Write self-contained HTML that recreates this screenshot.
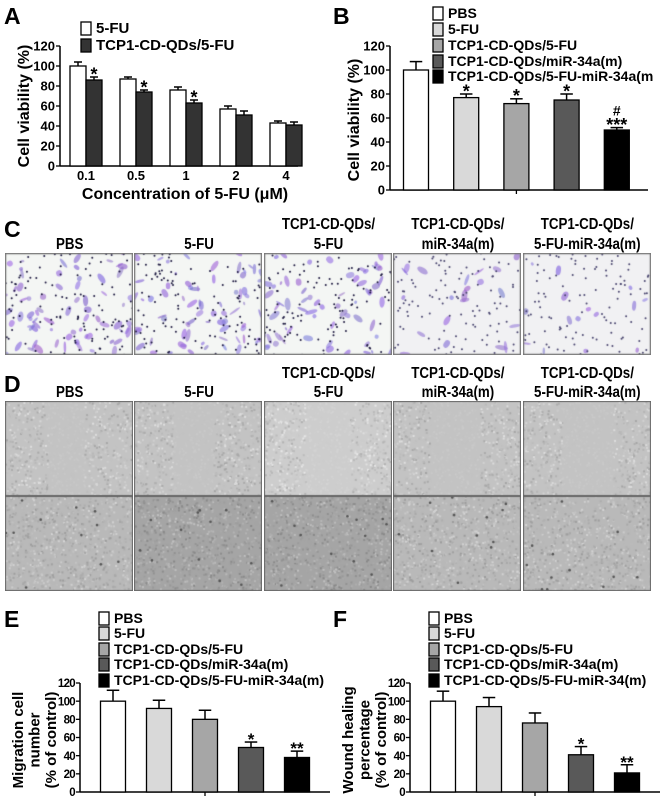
<!DOCTYPE html>
<html><head><meta charset="utf-8">
<style>
html,body{margin:0;padding:0;background:#fff;}
#root{position:relative;width:663px;height:798px;overflow:hidden;font-family:"Liberation Sans",Arial,sans-serif;}
canvas{position:absolute;}
#svg{position:absolute;left:0;top:0;}
text{font-family:"Liberation Sans",Arial,sans-serif;font-weight:bold;fill:#000;}
</style></head>
<body>
<div id="root">
<svg id="svg" width="663" height="798" xmlns="http://www.w3.org/2000/svg"></svg>
</div>
<script>
// ---------- Chart data ----------
const aCategories = ["0.1","0.5","1","2","4"];
const aFU = [100,87,76,57,43];
const aFUErr = [4,2,3,3,2];
const aQD = [86,74,63,51,41];
const aQDErr = [3,2,3,4,3];
const aStars = ["*","*","*","",""];

const groupNames = ["PBS","5-FU","TCP1-CD-QDs/5-FU","TCP1-CD-QDs/miR-34a(m)","TCP1-CD-QDs/5-FU-miR-34a(m"];
const bValues = [100,77,72,75,50];
const bErr = [7,3,4,5,2];
const bStars = ["","*","*","*","***"];

const eNames = ["PBS","5-FU","TCP1-CD-QDs/5-FU","TCP1-CD-QDs/miR-34a(m)","TCP1-CD-QDs/5-FU-miR-34a(m)"];
const eValues = [100,92,80,49,38];
const eErr = [12,9,10,6,7];
const eStars = ["","","","*","**"];

const fNames = ["PBS","5-FU","TCP1-CD-QDs/5-FU","TCP1-CD-QDs/miR-34a(m)","TCP1-CD-QDs/5-FU-miR-34(m)"];
const fValues = [100,94,76,41,21];
const fErr = [11,10,11,9,9];
const fStars = ["","","","*","**"];

const yTicks = [0,20,40,60,80,100,120];
const fills5 = ["#ffffff","#d9d9d9","#a6a6a6","#595959","#000000"];

const NS="http://www.w3.org/2000/svg";
const svg=document.getElementById('svg');
function el(tag,attrs,parent,txt){const e=document.createElementNS(NS,tag);for(const k in attrs)e.setAttribute(k,attrs[k]);if(txt!==undefined)e.textContent=txt;(parent||svg).appendChild(e);return e;}

function axes(g,ax,y0,y120,xEnd,fs,name,ls){
  const sy=v=>y0-(y0-y120)*v/120;
  const a=el('line',{x1:ax,y1:y120,x2:ax,y2:y0,stroke:'#000','stroke-width':1.5},g);
  
  const b=el('line',{x1:ax,y1:y0,x2:xEnd,y2:y0,stroke:'#000','stroke-width':1.5},g);
  
  yTicks.forEach(t=>{
    el('line',{x1:ax-4,y1:sy(t),x2:ax,y2:sy(t),stroke:'#000','stroke-width':1.3},g);
    const tx=el('text',{x:ax-5,y:sy(t)+fs*0.36,'text-anchor':'end','font-size':fs,'letter-spacing':ls||0},g,String(t));
    
  });
  return sy;
}
function bar(g,x,w,v,err,fill,sy,name){
  const r=el('rect',{x:x,y:sy(v),width:w,height:sy(0)-sy(v),fill:fill,stroke:'#000','stroke-width':1.3},g);
  
  const cx=x+w/2;
  el('line',{x1:cx,y1:sy(v),x2:cx,y2:sy(v+err),stroke:'#000','stroke-width':1.5},g);
  el('line',{x1:cx-w*0.25,y1:sy(v+err),x2:cx+w*0.25,y2:sy(v+err),stroke:'#000','stroke-width':1.5},g);
}
function star(g,cx,v,err,s,sy,fs,name){
  if(!s)return;
  const t=el('text',{x:cx,y:sy(v+err)+fs*0.3-2,'text-anchor':'middle','font-size':fs},g,s);
  
}
function legend(g,x,ys,names,fills,fs,name){
  names.forEach((n,i)=>{
    const r=el('rect',{x:x,y:ys[i]-6,width:10,height:13,fill:fills[i],stroke:'#000','stroke-width':1.3},g);
    
    const t=el('text',{x:x+15,y:ys[i]+5,'font-size':fs},g,n);
    
  });
}
function vtitle(g,x,y,lines,fs,gap,name){
  lines.forEach((l,i)=>{
    const t=el('text',{x:0,y:0,'text-anchor':'middle','font-size':fs,transform:`translate(${x+i*gap},${y}) rotate(-90)`},g,l);
    
  });
}
function panelLabel(x,y,s){const t=el('text',{x:x,y:y,'font-size':23},svg,s);}

// ---------- Panel A ----------
(function(){
  const g=el('g',{});
  panelLabel(4,24,'A');
  const sy=axes(g,60,166,46,298,13,'a');
  const step=50,c0=86,bw=16;
  aCategories.forEach((c,i)=>{
    const cx=c0+step*i;
    bar(g,cx-bw,bw,aFU[i],aFUErr[i],'#fff',sy,'a-bar-5fu-'+c);
    bar(g,cx,bw,aQD[i],aQDErr[i],'#333',sy,'a-bar-qd-'+c);
    star(g,cx+bw/2,aQD[i],aQDErr[i],aStars[i],sy,18,'a-significance');
    const t=el('text',{x:cx,y:180,'text-anchor':'middle','font-size':13},g,c);
    
  });
  legend(g,81,[28,45],["5-FU","TCP1-CD-QDs/5-FU"],['#fff','#333'],15,'a');
  vtitle(g,29,106,["Cell viability (%)"],16,0,'a-y-axis-title');
  const xt=el('text',{x:185,y:199,'text-anchor':'middle','font-size':16},g,"Concentration of 5-FU (\u03bcM)");
  
})();

// ---------- Panel B ----------
(function(){
  const g=el('g',{});
  panelLabel(333,24,'B');
  const sy=axes(g,390,190,46,648,13,'b');
  const bw=25,c0=416,step=50.2;
  bValues.forEach((v,i)=>{
    const cx=c0+step*i;
    bar(g,cx-bw/2,bw,v,bErr[i],fills5[i],sy,'b-bar-'+i);
    star(g,cx,v,bErr[i],bStars[i],sy,18,'b-significance');
  });
  const h=el('text',{x:c0+step*4,y:sy(bValues[4]+bErr[4])-12,'text-anchor':'middle','font-size':14},g,'#');
  
  el('line',{x1:c0+step*2,y1:190,x2:c0+step*2,y2:194,stroke:'#000','stroke-width':1.3},g);
  legend(g,433,[13,29,45,61,76],groupNames,fills5,14,'b');
  vtitle(g,359,120,["Cell viability (%)"],16,0,'b-y-axis-title');
})();

// ---------- Panels E / F ----------
function smallChart(prefix,label,lx,ax,names,vals,errs,stars,c0,titles){
  const g=el('g',{});
  panelLabel(lx,627,label);
  const sy=axes(g,ax,792,683,ax+250,11.5,prefix,-0.7);
  const bw=25,step=46;
  vals.forEach((v,i)=>{
    const cx=c0+step*i;
    bar(g,cx-bw/2,bw,v,errs[i],fills5[i],sy,prefix+'-bar-'+i);
    star(g,cx,v,errs[i],stars[i],sy,17,prefix+'-significance');
  });
  el('line',{x1:c0+step*2,y1:792,x2:c0+step*2,y2:796,stroke:'#000','stroke-width':1.3},g);
  legend(g,ax+19,[618,633,649,664,680],names,fills5,14,prefix);
  vtitle(g,ax-57,740,titles,15,16.5,prefix+'-y-axis-title');
}
smallChart('e','E',4,80,eNames,eValues,eErr,eStars,113,["Migration cell","number","(% of control)"]);
smallChart('f','F',333,410,fNames,fValues,fErr,fStars,443,["Wound healing","percentage","(% of control)"]);

// ---------- Panel C/D labels ----------
const colLabels=[["","PBS"],["","5-FU"],["TCP1-CD-QDs/","5-FU"],["TCP1-CD-QDs/","miR-34a(m)"],["TCP1-CD-QDs/","5-FU-miR-34a(m)"]];
const px0=5,pw=129.4;
panelLabel(4,237,'C');panelLabel(4,392,'D');
[[229,249,'c'],[378,397,'d']].forEach(([y1,y2,p])=>{
  colLabels.forEach((l,i)=>{
    const cx=px0+pw*(i+0.5);
    l.forEach((s,j)=>{ if(!s)return;
      const t=el('text',{x:0,y:0,'text-anchor':'middle','font-size':15.5,transform:`translate(${cx},${j?y2:y1}) scale(0.86,1)`},svg,s);
      
    });
  });
});

// ---------- Micrograph images (decorative) ----------
let seed=7;function rnd(){seed=(seed*16807)%2147483647;return seed/2147483647;}
const root=document.getElementById('root');
function mkCanvas(x,y,w,h,name){const c=document.createElement('canvas');c.width=Math.round(w);c.height=Math.round(h);c.style.left=x+'px';c.style.top=y+'px';root.appendChild(c);return c.getContext('2d');}
const cellDensity=[1,1,0.9,0.3,0.22];
for(let i=0;i<5;i++){
  const x=Math.round(px0+pw*i),w=Math.round(pw)-1;
  const ctx=mkCanvas(x,253,w,102,'c-transwell-image-'+i);
  ctx.fillStyle=i>=3?'#f1f1f3':'#f4f6f4';ctx.fillRect(0,0,w,102);
  const n=Math.round(70*cellDensity[i]);
  for(let k=0;k<n;k++){ctx.fillStyle=`rgba(${120+rnd()*40|0},${90+rnd()*40|0},${200+rnd()*30|0},0.6)`;
    ctx.beginPath();ctx.ellipse(rnd()*w,rnd()*102,1.5+rnd()*5,1+rnd()*2.2,rnd()*3,0,7);ctx.fill();}
  for(let k=0;k<110;k++){ctx.fillStyle=i>=3?'#4a4670':'#1e1a40';ctx.beginPath();ctx.arc(rnd()*w,rnd()*102,1,0,7);ctx.fill();}
  ctx.strokeStyle='#777';ctx.lineWidth=1.5;ctx.strokeRect(0.5,0.5,w-1,101);
}
const gap=[[0.33,0.62],[0.3,0.62],[0.32,0.67],[0.28,0.68],[0.3,0.7]];
for(let r=0;r<2;r++)for(let i=0;i<5;i++){
  const x=Math.round(px0+pw*i),w=Math.round(pw)-1,y=r?496:401,h=95;
  const ctx=mkCanvas(x,y,w,h,'d-wound-image-'+(r?'24h-':'0h-')+i);
  const base=r?(i==1||i==2?165:185):(i==2?205:195);
  ctx.fillStyle=`rgb(${base},${base},${base})`;ctx.fillRect(0,0,w,h);
  for(let k=0;k<900;k++){const xx=rnd()*w,yy=rnd()*h;const inGap=!r&&xx>gap[i][0]*w&&xx<gap[i][1]*w;
    const v=base+(inGap?(rnd()*8):(rnd()*60-30));ctx.fillStyle=`rgb(${v|0},${v|0},${v|0})`;ctx.fillRect(xx,yy,2,2);}
  if(r){for(let k=0;k<12;k++){ctx.fillStyle='#555';ctx.beginPath();ctx.arc(rnd()*w,rnd()*h,1.3,0,7);ctx.fill();}}
  ctx.strokeStyle='#666';ctx.lineWidth=1;ctx.strokeRect(0.5,0.5,w-1,h-1);
}
</script>
</body></html>
